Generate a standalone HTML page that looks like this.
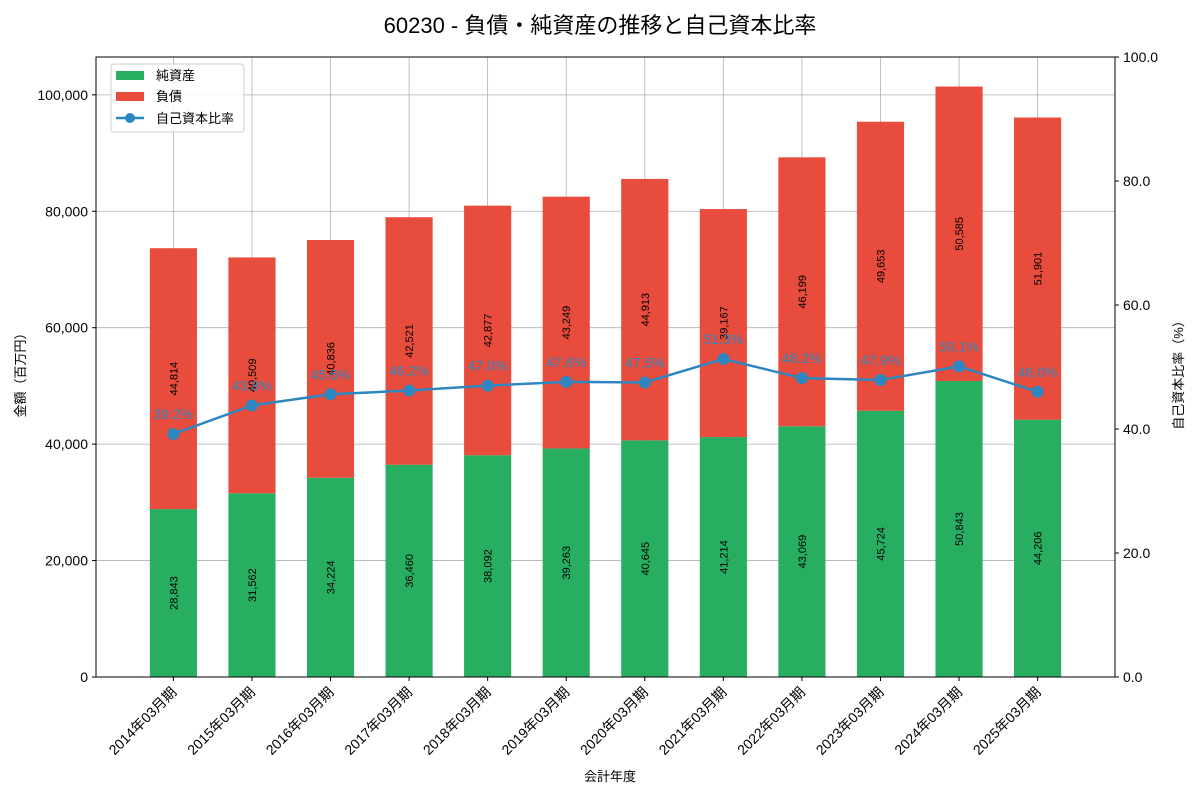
<!DOCTYPE html>
<html><head><meta charset="utf-8"><style>
body{margin:0;background:#fff;}
svg text{font-family:"Liberation Sans","Noto Sans CJK JP",sans-serif;}
</style></head><body>
<svg id="chart" width="1200" height="800" xmlns="http://www.w3.org/2000/svg">
<text x="600" y="33" text-anchor="middle" font-size="22">60230 - 負債・純資産の推移と自己資本比率</text>
<g id="grid"></g><g id="bars"></g><g id="line"></g><g id="axes"></g>
</svg>
<script>
const categories=["2014年03月期","2015年03月期","2016年03月期","2017年03月期","2018年03月期","2019年03月期","2020年03月期","2021年03月期","2022年03月期","2023年03月期","2024年03月期","2025年03月期"];
const netAssets=[28843,31562,34224,36460,38092,39263,40645,41214,43069,45724,50843,44206];
const liabilities=[44814,40509,40836,42521,42877,43249,44913,39167,46199,49653,50585,51901];
const ratios=[39.2,43.8,45.6,46.2,47.0,47.6,47.5,51.3,48.2,47.9,50.1,46.0];
const leftTicks=[0,20000,40000,60000,80000,100000];
const rightTicks=[0,20,40,60,80,100];
const L=96,R=1115,T=57,B=677;
const yMax=106500;
const xs=i=>L+(i+0.985)*((R-L)/12.97);
const yl=v=>B-v/yMax*(B-T);
const yr=v=>B-v/100*(B-T);
const NS="http://www.w3.org/2000/svg";
function mk(tag,attrs,parent,txt){const e=document.createElementNS(NS,tag);for(const k in attrs)e.setAttribute(k,attrs[k]);if(txt!==undefined)e.textContent=txt;document.getElementById(parent).appendChild(e);return e;}
const fmt=v=>v.toLocaleString('en-US');
const bw=0.6*((R-L)/12.97);
// grid
leftTicks.forEach(t=>{const g=mk('line',{x1:L,x2:R,y1:yl(t),y2:yl(t),stroke:'#b0b0b0','stroke-width':0.8},'grid');

});
categories.forEach((c,i)=>{const g=mk('line',{x1:xs(i),x2:xs(i),y1:T,y2:B,stroke:'#b0b0b0','stroke-width':0.8},'grid');

});
// bars
categories.forEach((c,i)=>{
const x=xs(i)-bw/2;
const r1=mk('rect',{x:x,y:yl(netAssets[i]),width:bw,height:B-yl(netAssets[i]),fill:'#27ae60'},'bars');


const top=netAssets[i]+liabilities[i];
const r2=mk('rect',{x:x,y:yl(top),width:bw,height:yl(netAssets[i])-yl(top),fill:'#e74c3c'},'bars');


const y1=yl(netAssets[i]/2);
const t1=mk('text',{x:0,y:0,transform:`translate(${xs(i)+4},${y1}) rotate(-90)`,'text-anchor':'middle','font-size':11},'bars',fmt(netAssets[i]));


const y2=yl(netAssets[i]+liabilities[i]/2);
const t2=mk('text',{x:0,y:0,transform:`translate(${xs(i)+4},${y2}) rotate(-90)`,'text-anchor':'middle','font-size':11},'bars',fmt(liabilities[i]));


});
// line
const pts=ratios.map((r,i)=>xs(i)+','+yr(r)).join(' ');
const pl=mk('polyline',{points:pts,fill:'none',stroke:'#2e86c1','stroke-width':2.5},'line');


ratios.forEach((r,i)=>{
const c=mk('circle',{cx:xs(i),cy:yr(r),r:6,fill:'#2e86c1'},'line');


const t=mk('text',{x:xs(i),y:yr(r)-15,'text-anchor':'middle','font-size':14,fill:'#2e86c1'},'line',r.toFixed(1)+'%');


});
// axes
const f=mk('rect',{x:L,y:T,width:R-L,height:B-T,fill:'none',stroke:'#000','stroke-width':1},'axes');


leftTicks.forEach(t=>{
const l=mk('line',{x1:L-4,x2:L,y1:yl(t),y2:yl(t),stroke:'#000'},'axes');


const tx=mk('text',{x:L-8,y:yl(t)+5,'text-anchor':'end','font-size':14},'axes',fmt(t));


});
rightTicks.forEach(t=>{
const l=mk('line',{x1:R,x2:R+4,y1:yr(t),y2:yr(t),stroke:'#000'},'axes');


const tx=mk('text',{x:R+8,y:yr(t)+5,'font-size':14},'axes',t.toFixed(1));


});
categories.forEach((c,i)=>{
const l=mk('line',{x1:xs(i),x2:xs(i),y1:B,y2:B+4,stroke:'#000'},'axes');


const tx=mk('text',{x:0,y:0,transform:`translate(${xs(i)+4},${B+16}) rotate(-45)`,'text-anchor':'end','font-size':14},'axes',c);


});
let a=mk('text',{x:0,y:0,transform:'translate(25,372) rotate(-90)','text-anchor':'middle','font-size':13},'axes','金額（百万円）');


a=mk('text',{x:0,y:0,transform:'translate(1183,372) rotate(-90)','text-anchor':'middle','font-size':13},'axes','自己資本比率（%）');


a=mk('text',{x:610,y:781,'text-anchor':'middle','font-size':13},'axes','会計年度');


// legend
const lg=mk('rect',{x:111,y:64,width:133,height:68,rx:3,fill:'#fff','fill-opacity':0.85,stroke:'#ccc'},'axes');


let e=mk('rect',{x:116,y:71,width:28,height:9,fill:'#27ae60'},'axes');


e=mk('text',{x:156,y:80,'font-size':13},'axes','純資産');


e=mk('rect',{x:116,y:92,width:28,height:9,fill:'#e74c3c'},'axes');


e=mk('text',{x:156,y:101,'font-size':13},'axes','負債');


e=mk('line',{x1:116,x2:144,y1:118,y2:118,stroke:'#2e86c1','stroke-width':2.5},'axes');


e=mk('circle',{cx:130,cy:118,r:5,fill:'#2e86c1'},'axes');


e=mk('text',{x:156,y:123,'font-size':13},'axes','自己資本比率');


</script>
</body></html>
